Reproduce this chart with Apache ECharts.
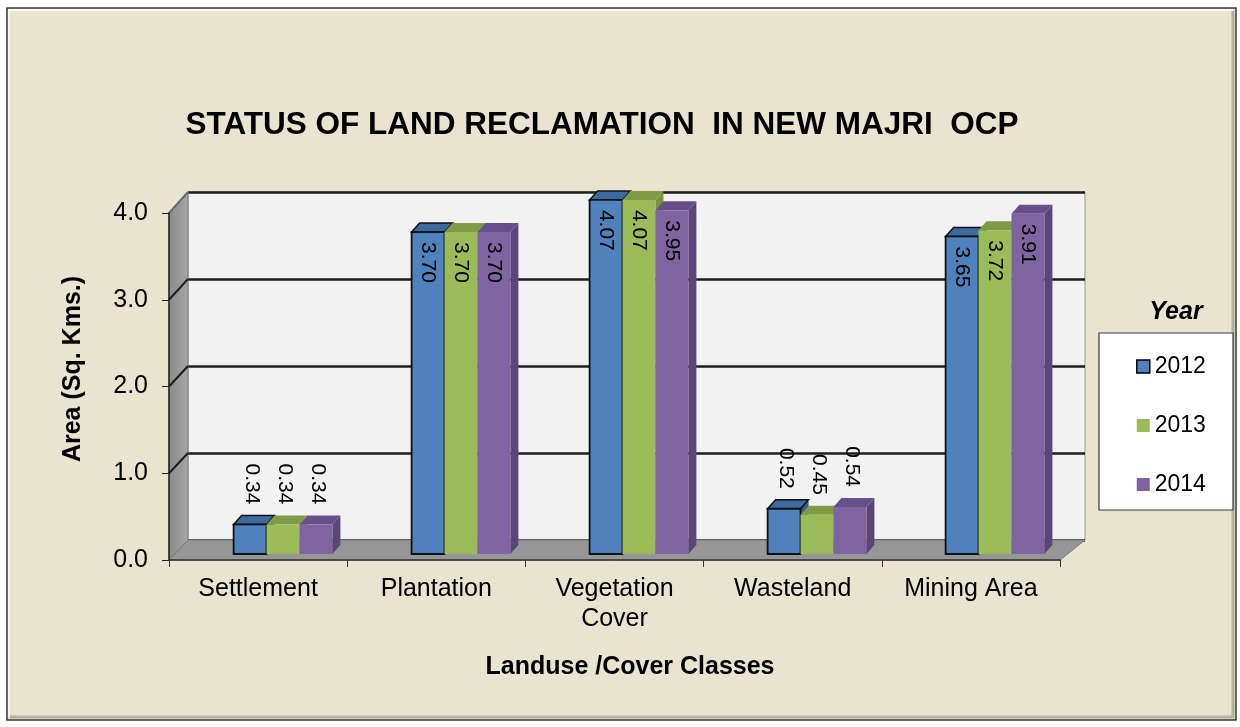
<!DOCTYPE html>
<html>
<head>
<meta charset="utf-8">
<script src="https://cdn.jsdelivr.net/npm/echarts@6/dist/echarts.min.js"></script>
<style>
  html, body { margin: 0; padding: 0; background: #fff; }
  #main { width: 1240px; height: 727px; }
</style>
</head>
<body>
<div id="main"></div>
<script>
// data
var categories = ['Settlement', 'Plantation', 'Vegetation\nCover', 'Wasteland', 'Mining Area'];
var years = ['2012', '2013', '2014'];
var area2012 = [0.34, 3.70, 4.07, 0.52, 3.65];
var area2013 = [0.34, 3.70, 4.07, 0.45, 3.72];
var area2014 = [0.34, 3.70, 3.95, 0.54, 3.91];
var yTicks = [0, 1, 2, 3, 4];

var FONT = 'Liberation Sans, Arial, sans-serif';
// colours: front, top, side
var pal = [
    {front: '#4F81BD', top: '#3D6B9F', side: '#385D8A', stroke: '#111'},
    {front: '#9BBB59', top: '#7F9B48', side: '#78923F', stroke: null},
    {front: '#8064A2', top: '#67508A', side: '#5A4677', stroke: null}
];

var myChart = echarts.init(document.getElementById('main'));

// front plane (axes), back wall, bar plane
var FRONT = {left: 169, right: 1060, top: 213, bottom: 560};
var BACK = {left: 188, right: 1085, top: 192, bottom: 540};
var BARS = {left: 194, right: 1084, top: 206, bottom: 554};

function gridOf(r, extra) {
    var g = {left: r.left, width: r.right - r.left, top: r.top, height: r.bottom - r.top, containLabel: false};
    for (var k in extra) g[k] = extra[k];
    return g;
}

function makeRender(si) {
    var c = pal[si];
    return function (params, api) {
        var cat = api.value(0);
        var v = api.value(1);
        var base = api.coord([cat, 0]);
        var top = api.coord([cat, v]);
        var band = api.size([1, 0])[0];
        var bw = band * 0.185;
        var x0 = base[0] - 1.5 * bw + si * bw;
        var x1 = x0 + bw;
        var dx = 8, dy = -9;
        var children = [
            {type: 'polygon', shape: {points: [[x1, top[1]], [x1 + dx, top[1] + dy], [x1 + dx, base[1] + dy], [x1, base[1]]]},
                style: {fill: c.side}},
            {type: 'polygon', shape: {points: [[x0, top[1]], [x0 + dx, top[1] + dy], [x1 + dx, top[1] + dy], [x1, top[1]]]},
                style: {fill: c.top, stroke: c.stroke, lineWidth: c.stroke ? 1.5 : 0}},
            {type: 'rect', shape: {x: x0, y: top[1], width: bw, height: base[1] - top[1]},
                style: {fill: c.front, stroke: c.stroke, lineWidth: c.stroke ? 1.8 : 0}}
        ];
        var label = v.toFixed(2);
        var cx = (x0 + x1) / 2;
        if (v >= 1) {
            children.push({type: 'text', x: cx, y: top[1] + 10, rotation: -Math.PI / 2, z2: 10,
                style: {text: label, fill: '#000', font: '21px ' + FONT, align: 'left', verticalAlign: 'middle'}});
        } else {
            children.push({type: 'text', x: cx + 2, y: top[1] - 20, rotation: -Math.PI / 2, z2: 10,
                style: {text: label, fill: '#000', font: '21px ' + FONT, align: 'right', verticalAlign: 'middle'}});
        }
        return {type: 'group', children: children};
    };
}

var allData = [area2012, area2013, area2014];
var series = [];
for (var s = 0; s < years.length; s++) {
    var d = [];
    for (var i = 0; i < categories.length; i++) d.push([i, allData[s][i]]);
    series.push({
        name: years[s],
        type: 'custom',
        xAxisIndex: 2,
        yAxisIndex: 2,
        z: 5,
        clip: false,
        renderItem: makeRender(s),
        encode: {x: 0, y: 1},
        itemStyle: {color: pal[s].front},
        data: d
    });
}

var option = {
    animation: false,
    backgroundColor: '#fff',
    title: {
        text: 'STATUS OF LAND RECLAMATION  IN NEW MAJRI  OCP',
        left: 597, top: 104, textAlign: 'center',
        textStyle: {fontFamily: FONT, fontSize: 31.5, fontWeight: 'bold', color: '#000'}
    },
    legend: {
        orient: 'vertical',
        left: 1131, top: 350,
        itemWidth: 13, itemHeight: 13, itemGap: 36,
        textStyle: {fontFamily: FONT, fontSize: 23, color: '#000', lineHeight: 23},
        data: [
            {name: '2012', icon: 'rect', itemStyle: {color: pal[0].front, borderColor: '#000', borderWidth: 1.5}},
            {name: '2013', icon: 'rect', itemStyle: {color: pal[1].front, borderWidth: 0}},
            {name: '2014', icon: 'rect', itemStyle: {color: pal[2].front, borderWidth: 0}}
        ],
        z: 8
    },
    grid: [
        gridOf(FRONT, {}),
        gridOf(BACK, {show: true, backgroundColor: '#F2F2F2', borderColor: '#9a9a9a', borderWidth: 1}),
        gridOf(BARS, {})
    ],
    xAxis: [
        {
            type: 'category', gridIndex: 0, data: categories, z: 3,
            axisLine: {lineStyle: {color: '#333', width: 1.5}},
            axisTick: {show: true, length: 7, lineStyle: {color: '#333'}},
            axisLabel: {fontFamily: FONT, fontSize: 25, color: '#000', margin: 14, lineHeight: 30, interval: 0}
        },
        {type: 'category', gridIndex: 1, data: categories, show: false},
        {type: 'category', gridIndex: 2, data: categories, show: false}
    ],
    yAxis: [
        {
            type: 'value', gridIndex: 0, min: 0, max: 4, interval: 1, z: 3,
            axisLine: {show: true, lineStyle: {color: '#222', width: 1.5}},
            axisTick: {show: true, length: 7, lineStyle: {color: '#222'}},
            splitLine: {show: false},
            axisLabel: {fontFamily: FONT, fontSize: 25, color: '#000', margin: 21,
                formatter: function (v) { return v.toFixed(1); }}
        },
        {
            type: 'value', gridIndex: 1, min: 0, max: 4, interval: 1,
            axisLine: {show: false}, axisTick: {show: false}, axisLabel: {show: false},
            splitLine: {show: true, lineStyle: {color: '#1e1e1e', width: 2.5}}
        },
        {type: 'value', gridIndex: 2, min: 0, max: 4, show: false}
    ],
    series: series
};

myChart.setOption(option);

// decorations: frame, side wall, floor, titles, legend box
var gfx = [];
gfx.push({type: 'rect', z: -10, shape: {x: 7, y: 8, width: 1229, height: 712},
    style: {fill: '#E9E4D0', stroke: '#3a3a3a', lineWidth: 1.5}});
gfx.push({type: 'polyline', z: -9, shape: {points: [[9, 716], [9, 10], [1233, 10]]},
    style: {stroke: '#ffffff', lineWidth: 2, opacity: 0.7}});
gfx.push({type: 'polyline', z: -9, shape: {points: [[10, 717], [1233, 717], [1233, 11]]},
    style: {stroke: '#b5b09c', lineWidth: 3}});

// side wall
gfx.push({type: 'polygon', z: 1,
    shape: {points: [[FRONT.left, FRONT.top], [BACK.left, BACK.top], [BACK.left, BACK.bottom], [FRONT.left, FRONT.bottom]]},
    style: {fill: new echarts.graphic.LinearGradient(0, 0, 1, 0, [
        {offset: 0, color: '#8a8a8a'}, {offset: 1, color: '#a6a6a6'}]), stroke: '#777', lineWidth: 1}});
// floor
gfx.push({type: 'polygon', z: 1,
    shape: {points: [[FRONT.left, FRONT.bottom], [FRONT.right, FRONT.bottom], [BACK.right, BACK.bottom], [BACK.left, BACK.bottom]]},
    style: {fill: '#979797', stroke: '#7a7a7a', lineWidth: 1}});
// gridlines running across the side wall
for (var t = 1; t < yTicks.length; t++) {
    var pf = myChart.convertToPixel({xAxisIndex: 0, yAxisIndex: 0}, [0, yTicks[t]]);
    var pb = myChart.convertToPixel({xAxisIndex: 1, yAxisIndex: 1}, [0, yTicks[t]]);
    gfx.push({type: 'line', z: 2, shape: {x1: FRONT.left, y1: pf[1], x2: BACK.left, y2: pb[1]},
        style: {stroke: t === yTicks.length - 1 ? '#6a6a6a' : '#1e1e1e', lineWidth: 2}});
}

// axis titles
gfx.push({type: 'text', z: 6, x: 73, y: 369, rotation: Math.PI / 2,
    style: {text: 'Area (Sq. Kms.)', font: 'bold 25px ' + FONT, fill: '#000', align: 'center', verticalAlign: 'middle'}});
gfx.push({type: 'text', z: 6, x: 630, y: 667,
    style: {text: 'Landuse /Cover Classes', font: 'bold 25px ' + FONT, fill: '#000', align: 'center', verticalAlign: 'middle'}});

// legend box and heading
gfx.push({type: 'rect', z: 3, shape: {x: 1099, y: 333, width: 134, height: 177},
    style: {fill: '#fff', stroke: '#3a3a3a', lineWidth: 1.2}});
gfx.push({type: 'text', z: 6, x: 1176, y: 312,
    style: {text: 'Year', font: 'italic bold 25px ' + FONT, fill: '#000', align: 'center', verticalAlign: 'middle'}});

myChart.setOption({graphic: gfx});
</script>
</body>
</html>
